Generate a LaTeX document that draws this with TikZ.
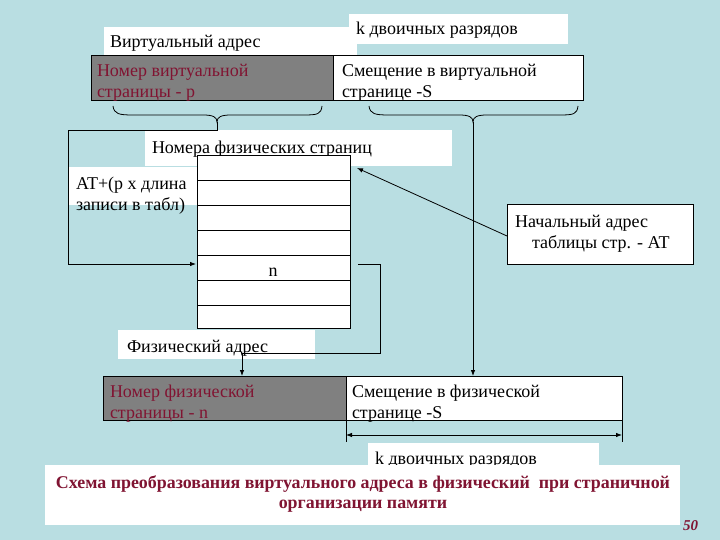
\documentclass[tikz,border=0pt]{standalone}
\usepackage{fontspec}
\setmainfont{Liberation Serif}
\usetikzlibrary{arrows.meta,calc}
\definecolor{bgblue}{RGB}{185,222,226}
\definecolor{dred}{RGB}{128,20,50}
\definecolor{pgray}{RGB}{128,128,128}
\newcommand\dfont{\fontsize{18}{21}\selectfont}
\newcommand\cfont{\fontsize{17.9}{20}\selectfont\bfseries}
\begin{document}
\begin{tikzpicture}[x=1pt,y=-1pt,
  every node/.style={inner sep=0pt, outer sep=0pt},
  wbox/.style={fill=white, anchor=north west},
  cell/.style={draw=black, fill=white, anchor=north west, line width=0.8pt, minimum width=153pt},
  gbox/.style={draw=black, fill=pgray, anchor=north west, line width=0.8pt},
  obox/.style={draw=black, fill=white, anchor=north west, line width=0.8pt},
  txt/.style={anchor=base west, align=left, font=\dfont},
  rtxt/.style={txt, text=dred},
  conn/.style={line width=0.8pt, draw=black},
  arr/.style={conn, -{Latex[length=6pt,width=4.5pt]}},
  darr/.style={conn, {Latex[length=6pt,width=4.5pt]}-{Latex[length=6pt,width=4.5pt]}},
]
\fill[bgblue] (0,0) rectangle (720,540);
\useasboundingbox (0,0) rectangle (720,540);

% top labels (multi-line text nodes are placed by the baseline of their last line)
\node[wbox, minimum width=253pt, minimum height=28pt] (vaddrbox) at (104,27) {};
\node[txt] (vaddr) at (110,48) {Виртуальный адрес};
\node[wbox, minimum width=219pt, minimum height=30pt] (ktopbox) at (349,14) {};
\node[txt] (ktop) at (356,35) {k двоичных разрядов};

% virtual address
\node[gbox, minimum width=242pt, minimum height=45pt] (vpage) at (91,55) {};
\node[rtxt] (vpaget) at (97,98) {Номер виртуальной\\страницы - p};
\node[obox, minimum width=250pt, minimum height=45pt] (voff) at (333,55) {};
\node[txt] (vofft) at (342,98) {Смещение в виртуальной\\странице -S};

% braces
\draw[conn] (113,106) .. controls (114,114) and (119,115) .. (133,115) -- (203,115)
  .. controls (213,115) and (217,117) .. (217,122)
  .. controls (217,117) and (221,115) .. (231,115) -- (304,115)
  .. controls (318,115) and (321,114) .. (322,106);
\draw[conn, xshift=256pt] (113,106) .. controls (114,114) and (119,115) .. (133,115) -- (203,115)
  .. controls (213,115) and (217,117) .. (217,122)
  .. controls (217,117) and (221,115) .. (231,115) -- (304,115)
  .. controls (318,115) and (321,114) .. (322,106);
\coordinate (bltip) at (217,122);
\coordinate (brtip) at (473,122);

% labels around table
\node[wbox, minimum width=307pt, minimum height=36pt] (pnumbox) at (145,130) {};
\node[txt] (pnum) at (152,154) {Номера физических страниц};
\node[wbox, minimum width=129pt, minimum height=38pt] (atbox) at (68,167) {};
\node[txt] (att) at (76,211) {AT+(p x длина\\записи в табл)};

% left loop connector
\coordinate (ain) at (196,264);
\draw[arr] (bltip) -- ++(0,8) -| (68,264) -- (ain);

% table
\node[cell, minimum height=25pt] (row1) at (197,155) {};
\node[cell, minimum height=25pt] (row2) at (197,180) {};
\node[cell, minimum height=25pt] (row3) at (197,205) {};
\node[cell, minimum height=25pt] (row4) at (197,230) {};
\node[cell, minimum height=25pt] (row5) at (197,255) {};
\node[cell, minimum height=25pt] (row6) at (197,280) {};
\node[cell, minimum height=23pt] (row7) at (197,305) {};
\node[anchor=base, font=\dfont] (nlab) at (273,276) {n};

% start address box
\node[obox, minimum width=186pt, minimum height=60pt] (ataddr) at (507,204) {};
\node[txt] (ataddrt) at (515,248) {Начальный адрес\\\hspace*{17pt}таблицы стр. - AT};
\coordinate (attip) at (357,168);
\draw[arr] (507,236) -- (attip);

% physical address label
\node[wbox, minimum width=197pt, minimum height=29pt] (fabox) at (118,330) {};
\node[txt] (fat) at (127,352) {Физический адрес};

% physical address
\node[gbox, minimum width=243pt, minimum height=44pt] (ppage) at (103,376) {};
\node[rtxt] (ppaget) at (110,418) {Номер физической\\страницы - n};
\node[obox, minimum width=276pt, minimum height=44pt] (poff) at (346,376) {};
\node[txt] (pofft) at (352,418) {Смещение в физической\\странице -S};

% connectors to physical address
\coordinate (nout) at (358,264);
\coordinate (pin) at (242,376);
\draw[arr] (nout) -| (380,353) -| (pin);
\draw[arr] (brtip) -- (brtip |- poff.north);

% k bits dimension
\draw[conn] (poff.south west) -- ++(0,22);
\draw[conn] (poff.south east) -- ++(0,22);
\coordinate (dl) at (346,435);
\coordinate (dr) at (622,435);
\draw[darr] (dl) -- (dr);

\node[wbox, minimum width=231pt, minimum height=27pt] (kbotbox) at (368,443) {};
\node[txt] (kbot) at (375,464) {k двоичных разрядов};

% caption
\node[wbox, minimum width=635pt, minimum height=60pt] (capbox) at (45,465) {};
\node[anchor=base, align=center, font=\cfont, text=dred] (cap) at (363,508)
  {Схема преобразования виртуального адреса в физический\ \ при страничной\\организации памяти};
\node[anchor=base east, font=\fontsize{15}{18}\selectfont\bfseries\itshape, text=dred] (pg) at (698,530) {50};
\end{tikzpicture}
\end{document}
